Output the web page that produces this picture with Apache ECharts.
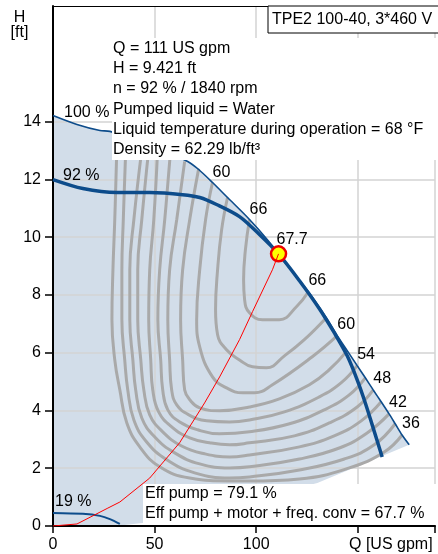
<!DOCTYPE html>
<html><head><meta charset="utf-8">
<script src="https://cdn.jsdelivr.net/npm/echarts@6/dist/echarts.min.js"></script>
<style>html,body{margin:0;padding:0;background:#fff}#c{width:438px;height:554px}</style>
</head><body><div id="c"></div>
<script>
const FONT = "'Liberation Sans', Arial, Helvetica, sans-serif";

// ---- axis ticks / labels ----
const xTicks = [0, 50, 100, 150];
const xTickLabels = ['0', '50', '100', 'Q [US gpm]'];
const yTicks = [0, 2, 4, 6, 8, 10, 12, 14];

// ---- texts ----
const titleText = 'TPE2 100-40, 3*460 V';
const infoLines = ['Q = 111 US gpm', 'H = 9.421 ft', 'n = 92 % / 1840 rpm', 'Pumped liquid = Water',
  'Liquid temperature during operation = 68 °F', 'Density = 62.29 lb/ft³'];
const effLines = ['Eff pump = 79.1 %', 'Eff pump + motor + freq. conv = 67.7 %'];

// ---- curves [Q, H] ----
const curveMax = [[0,14.21],[11.8,13.90],[23.1,13.69],[28.0,13.66],[47.6,13.21],[66.3,12.62],[71.7,12.34],[78.5,11.89],[85.9,11.37],[96.7,10.61],[105.5,9.91],[113.9,9.15],[125.7,8.11],[134.5,7.21],[139.9,6.59],[144.8,6.07],[149.7,5.55],[153.7,5.13],[157.6,4.71],[161.5,4.30],[165.4,3.88],[168.4,3.54],[171.8,3.15],[175.3,2.81]];
const curve92 = [[0,11.99],[14.7,11.68],[31.4,11.54],[47.6,11.54],[63.8,11.47],[72.2,11.37],[80.5,11.13],[91.8,10.71],[101.6,10.09],[111.0,9.42],[121.3,8.49],[131.1,7.52],[138.4,6.69],[144.8,5.89],[149.7,5.06],[153.7,4.26],[157.1,3.50],[162.0,2.39]];
const curve19 = [[0,0.45],[14.7,0.42],[23.1,0.35],[28.0,0.24],[32.9,0.07]];
const systemCurve = [[0,0],[11.8,0.07],[27.0,0.62],[32.9,0.83],[47.6,1.66],[62.3,2.88],[74.6,4.26],[82.0,5.16],[91.8,6.45],[98.2,7.42],[108.0,8.87],[111.0,9.42]];
const dutyPoint = [111, 9.421];
const dutyLabel = '67.7';
const areaLowerEdge = [[0,0],[32.9,0.02],[44,0.1],[80,0.6],[130.1,1.49],[175.3,2.81]];

// ---- efficiency contours ----
const eff66 = [[96.7,10.61],[94.7,9.57],[93.8,8.53],[94.3,7.83],[96.7,7.38],[103.1,7.14],[111.4,7.14],[119.8,7.59],[125.7,8.11]];
const eff63 = [[85.9,11.37],[83.0,10.26],[81.0,8.87],[80.0,7.49],[81.0,6.62],[85.4,6.10],[91.8,5.75],[98.2,5.51],[105.1,5.48],[113.9,5.89],[123.7,6.45],[134.5,7.21]];
const eff60 = [[78.5,11.89],[75.1,10.61],[72.2,8.87],[70.7,7.14],[72.2,6.20],[78.5,5.16],[85.4,4.78],[93.3,4.61],[99.2,4.61],[108.0,4.89],[127.6,5.86],[139.9,6.59]];
const eff57 = [[71.7,12.37],[67.3,10.61],[63.8,8.87],[62.8,7.14],[63.8,5.75],[64.8,4.71],[67.3,4.37],[72.2,4.09],[82.0,3.99],[96.7,4.12],[111.4,4.40],[126.2,4.89],[136.0,5.41],[144.8,6.07]];
const eff54 = [[64.8,12.62],[60.9,10.61],[57.4,8.87],[56.5,7.14],[57.4,5.75],[58.4,4.71],[60.9,4.19],[66.8,3.85],[75.6,3.64],[86.9,3.60],[96.7,3.67],[113.9,3.95],[131.1,4.47],[141.9,4.96],[149.7,5.55]];
const eff51 = [[57.9,13.03],[55.0,10.61],[52.5,8.87],[51.6,7.14],[53.0,5.75],[54.0,4.71],[56.5,4.02],[62.4,3.60],[71.2,3.33],[82.0,3.19],[96.7,3.26],[116.4,3.54],[133.5,4.02],[145.8,4.54],[153.7,5.13]];
const eff48 = [[51.5,13.03],[49.6,10.61],[47.6,8.87],[47.1,7.14],[48.1,5.75],[49.1,4.71],[52.0,3.95],[58.4,3.43],[67.3,3.05],[77.1,2.88],[86.9,2.81],[96.7,2.88],[118.8,3.12],[136.0,3.57],[149.7,4.12],[157.6,4.71]];
const eff45 = [[47.1,13.03],[43.7,10.61],[41.7,8.87],[41.7,7.14],[43.2,5.75],[44.7,4.71],[47.6,3.85],[54.0,3.26],[63.3,2.77],[74.6,2.50],[86.9,2.39],[96.7,2.46],[121.3,2.74],[138.4,3.12],[151.7,3.64],[161.5,4.30]];
const eff42 = [[43.7,13.03],[39.8,10.61],[37.8,8.87],[37.8,7.14],[39.3,5.75],[40.7,4.71],[43.7,3.74],[50.1,3.08],[59.9,2.53],[72.2,2.15],[86.9,2.01],[96.7,2.05],[121.3,2.32],[140.9,2.70],[154.6,3.22],[165.4,3.88]];
const eff39 = [[35.8,13.03],[34.6,10.61],[33.9,8.87],[33.9,7.14],[35.3,5.75],[36.8,4.71],[39.8,3.67],[46.1,2.91],[56.0,2.29],[69.7,1.84],[86.9,1.66],[96.7,1.70],[121.3,1.94],[143.4,2.32],[158.1,2.81],[168.4,3.54]];
const eff36 = [[31.4,13.03],[30.4,10.61],[29.5,8.87],[29.0,7.14],[30.4,5.75],[32.9,4.71],[36.3,3.57],[42.7,2.74],[52.5,2.05],[67.3,1.66],[86.9,1.56],[96.7,1.56],[121.3,1.63],[145.8,2.01],[163.0,2.56],[171.8,3.15]];
const effContours = {66:eff66, 63:eff63, 60:eff60, 57:eff57, 54:eff54, 51:eff51, 48:eff48, 45:eff45, 42:eff42, 39:eff39, 36:eff36};
const effLabelsLeft = [60, 66];
const effLabelsRight = [66, 60, 54, 48, 42, 36];
const speedLabels = ['100 %', '92 %', '19 %'];

// ---- build ----
const BLUE = '#0d4c8b';
const GRAY = '#a9a9a9';
const fillPoly = areaLowerEdge.concat(curveMax.slice().reverse());

const series = [];
series.push({
  type: 'custom', z: 0, silent: true, clip: false,
  data: [[0, 0]],
  renderItem: function (params, api) {
    return { type: 'polygon', shape: { points: fillPoly.map(p => api.coord(p)) }, style: { fill: '#d2dde9' } };
  }
});
Object.keys(effContours).forEach(k => {
  series.push({ type: 'line', data: effContours[k], symbol: 'none', smooth: 0.45, z: 2, silent: true,
    lineStyle: { color: GRAY, width: 3 } });
});
series.push({ type: 'line', data: curveMax, symbol: 'none', smooth: 0.3, z: 3, lineStyle: { color: BLUE, width: 1.6 } });
series.push({ type: 'line', data: curve92, symbol: 'none', smooth: 0.3, z: 3, lineStyle: { color: BLUE, width: 3.5 } });
series.push({ type: 'line', data: curve19, symbol: 'none', smooth: 0.3, z: 3, lineStyle: { color: BLUE, width: 2 } });
series.push({ type: 'scatter', data: [dutyPoint], symbol: 'circle', symbolSize: 15, z: 4,
  itemStyle: { color: '#ffff00', borderColor: '#ee0000', borderWidth: 2.5, opacity: 1 } });
series.push({ type: 'line', data: systemCurve, symbol: 'none', z: 5, lineStyle: { color: '#ff0000', width: 1 } });

const labelData = [];
effLabelsLeft.forEach(e => labelData.push({ value: effContours[e][0], label: { formatter: String(e), offset: [0, -10] } }));
effLabelsRight.forEach(e => { const l = effContours[e]; labelData.push({ value: l[l.length - 1], label: { formatter: String(e), offset: [0, -11] } }); });
labelData.push({ value: dutyPoint, label: { formatter: dutyLabel, offset: [-2, -14] } });
labelData.push({ value: curveMax[0], label: { formatter: speedLabels[0], offset: [11, -3] } });
labelData.push({ value: curve92[0], label: { formatter: speedLabels[1], offset: [10, -4] } });
labelData.push({ value: curve19[0], label: { formatter: speedLabels[2], offset: [2, -11] } });
series.push({ type: 'scatter', data: labelData, symbolSize: 0, z: 6, silent: true,
  itemStyle: { color: '#000', opacity: 1 },
  label: { show: true, position: 'right', distance: 0, color: '#000', opacity: 1, fontSize: 16, fontFamily: FONT } });

const option = {
  animation: false,
  textStyle: { fontFamily: FONT },
  grid: { left: 53, top: 6, right: 2, bottom: 28, containLabel: false },
  xAxis: [{
    type: 'value', min: 0, max: 188, interval: 50, position: 'bottom', z: 1,
    axisLine: { lineStyle: { color: '#000', width: 2 } },
    axisTick: { length: 7, lineStyle: { color: '#000', width: 1.5 } },
    axisLabel: { margin: 11, color: '#000', fontSize: 16, fontFamily: FONT,
      formatter: v => { const i = xTicks.indexOf(v); return i === 3 ? '{q|' + xTickLabels[i] + '}' : (i >= 0 ? xTickLabels[i] : ''); },
      rich: { q: { fontSize: 16, fontFamily: FONT, color: '#000', padding: [0, 0, 0, 66] } } },
    splitLine: { show: true, lineStyle: { color: '#d3d3d3', width: 1.5 } }
  }, {
    type: 'value', min: 0, max: 188, position: 'top', z: 1,
    axisLine: { show: true, onZero: false, lineStyle: { color: '#000', width: 1 } },
    axisTick: { show: false }, axisLabel: { show: false }, splitLine: { show: false }
  }],
  yAxis: {
    type: 'value', min: 0, max: 18, interval: 2, z: 1,
    axisLine: { show: true, lineStyle: { color: '#000', width: 2 } },
    axisTick: { show: true, length: 8, customValues: yTicks, lineStyle: { color: '#000', width: 1.5 } },
    axisLabel: { margin: 12, color: '#000', fontSize: 16, fontFamily: FONT, customValues: yTicks },
    splitLine: { show: true, lineStyle: { color: '#d3d3d3', width: 1.5 } }
  },
  graphic: [
    { type: 'rect', z: 100, shape: { x: 268, y: 6, width: 190, height: 27 }, style: { fill: '#fff', stroke: '#000', lineWidth: 1 } },
    { type: 'text', z: 101, x: 272, y: 19.5, style: { text: titleText, font: '16px ' + FONT, fill: '#000', verticalAlign: 'middle' } },
    { type: 'rect', z: 100, shape: { x: 112, y: 38, width: 330, height: 122 }, style: { fill: '#fff' } },
    { type: 'text', z: 101, x: 113, y: 38.5, style: { text: infoLines.join('\n'), font: '16px ' + FONT, lineHeight: 20.2, fill: '#000', verticalAlign: 'top' } },
    { type: 'rect', z: 100, shape: { x: 143, y: 484, width: 300, height: 41 }, style: { fill: '#fff' } },
    { type: 'text', z: 101, x: 145, y: 484, style: { text: effLines.join('\n'), font: '16px ' + FONT, lineHeight: 19.5, fill: '#000', verticalAlign: 'top' } },
    { type: 'text', z: 101, x: 19.5, y: 18, style: { text: 'H', font: '16px ' + FONT, fill: '#000', align: 'center', verticalAlign: 'middle' } },
    { type: 'text', z: 101, x: 19.5, y: 33, style: { text: '[ft]', font: '16px ' + FONT, fill: '#000', align: 'center', verticalAlign: 'middle' } }
  ],
  series: series
};
const chart = echarts.init(document.getElementById('c'), null, { renderer: 'canvas' });
chart.setOption(option);
</script></body></html>
